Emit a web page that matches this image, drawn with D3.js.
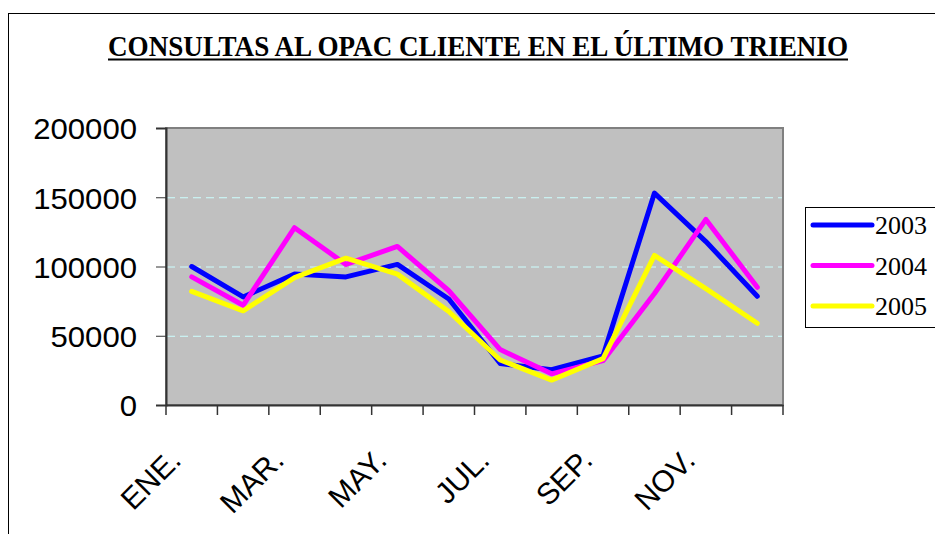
<!DOCTYPE html>
<html>
<head>
<meta charset="utf-8">
<script src="https://cdn.jsdelivr.net/npm/d3@7"></script>
<style>
  body { margin: 0; background: #fff; }
  svg { display: block; }
</style>
</head>
<body>
<div id="chart"></div>
<script>
// 月份與各年資料
const months = ["ENE.", "FEB.", "MAR.", "ABR.", "MAY.", "JUN.", "JUL.", "AGO.", "SEP.", "OCT.", "NOV.", "DIC."];
const years = ["2003", "2004", "2005"];
const values2003 = [100000, 78000, 94500, 92500, 101500, 76500, 30000, 25500, 35500, 153000, 118000, 78500];
const values2004 = [92500, 72000, 128000, 101500, 114500, 82500, 40000, 22500, 32000, 80500, 134000, 85000];
const values2005 = [82000, 68000, 92000, 106000, 94500, 67500, 32500, 18000, 33500, 108000, 84000, 59000];
const yTicks = [0, 50000, 100000, 150000, 200000];
const colors = ["#0000FF", "#FF00FF", "#FFFF00"];

const width = 935, height = 534;
const plot = { left: 166, right: 783, top: 128, bottom: 405 };

const svg = d3.select("#chart").append("svg")
    .attr("width", width)
    .attr("height", height);

// 外框
svg.append("rect")
    .attr("x", 8.5).attr("y", 13.5)
    .attr("width", 940).attr("height", 540)
    .attr("fill", "#fff")
    .attr("stroke", "#000")
    .attr("stroke-width", 1);

// 標題
svg.append("text")
    .attr("x", 478).attr("y", 56)
    .attr("text-anchor", "middle")
    .attr("font-family", "Liberation Serif, Times New Roman, serif")
    .attr("font-weight", "bold")
    .attr("font-size", 29)
    .attr("textLength", 740)
    .attr("lengthAdjust", "spacingAndGlyphs")
    .text("CONSULTAS AL OPAC CLIENTE EN EL ÚLTIMO TRIENIO");
svg.append("rect")
    .attr("x", 108).attr("y", 58.5)
    .attr("width", 740).attr("height", 2)
    .attr("fill", "#000");

const x = d3.scaleBand().domain(months).range([plot.left, plot.right]);
const y = d3.scaleLinear().domain([0, 200000]).range([plot.bottom, plot.top]);

// 繪圖區
svg.append("rect")
    .attr("x", plot.left).attr("y", plot.top)
    .attr("width", plot.right - plot.left).attr("height", plot.bottom - plot.top)
    .attr("fill", "#C0C0C0")
    .attr("stroke", "#808080")
    .attr("stroke-width", 2);

// 格線
svg.append("g")
    .selectAll("line")
    .data(yTicks.filter(t => t > 0 && t < 200000))
    .enter().append("line")
    .attr("x1", plot.left + 1).attr("x2", plot.right - 1)
    .attr("y1", d => y(d) + 0.5).attr("y2", d => y(d) + 0.5)
    .attr("stroke", "#CCFFFF")
    .attr("stroke-width", 1)
    .attr("stroke-dasharray", "8,5");

// Y 軸
const yAxis = svg.append("g")
    .attr("transform", `translate(${plot.left},0)`)
    .call(d3.axisLeft(y).tickValues(yTicks).tickSize(10).tickPadding(19).tickFormat(d3.format("d")));
yAxis.select(".domain").attr("stroke", "#333").attr("stroke-width", 2);
yAxis.selectAll(".tick line").attr("stroke", "#333");
yAxis.selectAll("text")
    .attr("font-family", "Liberation Sans, Arial, sans-serif")
    .attr("font-size", 30)
    .attr("textLength", 104)
    .attr("lengthAdjust", "spacingAndGlyphs")
    .attr("fill", "#000")
    .attr("dy", "0.36em");
yAxis.selectAll("text")
    .attr("textLength", d => String(d).length * 17.3);

// X 軸
const xAxis = svg.append("g")
    .attr("transform", `translate(0,${plot.bottom})`)
    .call(d3.axisBottom(x).tickSize(0).tickFormat(""));
xAxis.select(".domain").attr("stroke", "#333").attr("stroke-width", 2);
const bw = x.bandwidth();
svg.append("g")
    .selectAll("line")
    .data(d3.range(months.length + 1))
    .enter().append("line")
    .attr("x1", i => plot.left + i * bw).attr("x2", i => plot.left + i * bw)
    .attr("y1", plot.bottom).attr("y2", plot.bottom + 10)
    .attr("stroke", "#333")
    .attr("stroke-width", 1.5);

svg.append("g")
    .selectAll("text")
    .data(months.filter((m, i) => i % 2 === 0))
    .enter().append("text")
    .attr("transform", d => `translate(${x(d) + bw / 2 - 9},462) rotate(-45)`)
    .attr("text-anchor", "end")
    .attr("font-family", "Liberation Sans, Arial, sans-serif")
    .attr("font-size", 30)
    .attr("fill", "#000")
    .text(d => d);

// 折線
const series = [values2003, values2004, values2005];
const line = d3.line()
    .x((d, i) => x(months[i]) + bw / 2)
    .y(d => y(d));

svg.append("g")
    .selectAll("path")
    .data(series)
    .enter().append("path")
    .attr("d", line)
    .attr("fill", "none")
    .attr("stroke", (d, i) => colors[i])
    .attr("stroke-width", 5)
    .attr("stroke-linejoin", "round")
    .attr("stroke-linecap", "round");

// 圖例
const legend = svg.append("g");
legend.append("rect")
    .attr("x", 805.5).attr("y", 207.5)
    .attr("width", 140).attr("height", 120)
    .attr("fill", "#fff")
    .attr("stroke", "#000")
    .attr("stroke-width", 1);
const items = legend.selectAll("g")
    .data(years)
    .enter().append("g")
    .attr("transform", (d, i) => `translate(0,${225 + i * 40.5})`);
items.append("line")
    .attr("x1", 813).attr("x2", 872)
    .attr("y1", 0).attr("y2", 0)
    .attr("stroke", (d, i) => colors[i])
    .attr("stroke-width", 5)
    .attr("stroke-linecap", "round");
items.append("text")
    .attr("x", 875).attr("y", 9)
    .attr("font-family", "Liberation Serif, Times New Roman, serif")
    .attr("font-size", 26)
    .attr("fill", "#000")
    .text(d => d);
</script>
</body>
</html>
